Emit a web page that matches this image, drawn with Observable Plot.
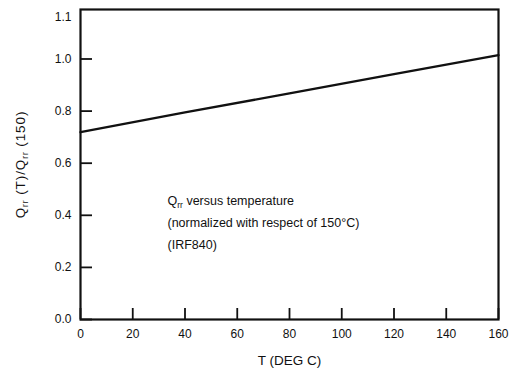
<!DOCTYPE html>
<html><head><meta charset="utf-8">
<script src="https://cdn.jsdelivr.net/npm/d3@7"></script>
<script src="https://cdn.jsdelivr.net/npm/@observablehq/plot@0.6"></script>
<style>html,body{margin:0;padding:0;background:#fff} svg{display:block}</style>
</head><body><div id="chart"></div>
<script>
// Data
const temps = [0, 40, 80, 120, 160];
const qrrRatio = [0.719, 0.795, 0.868, 0.942, 1.015];
const xTicks = [0, 20, 40, 60, 80, 100, 120, 140, 160];
const yTicks = [0, 0.2, 0.4, 0.6, 0.8, 1.0];
const yTickLabels = ["0.0", "0.2", "0.4", "0.6", "0.8", "1.0"];
const yTop = 1.19;
const yTopLabel = "1.1";
const xLabel = "T (DEG C)";
const yLabel = "Qrr (T)/Qrr (150)";
const noteLines = ["Qrr versus temperature", "(normalized with respect of 150°C)", "(IRF840)"];
const noteAt = {t: 33.3, q: 0.381};

const rows = temps.map((t, i) => ({t, q: qrrRatio[i]}));
const font = "'Liberation Sans', Arial, Helvetica, sans-serif";

const chart = Plot.plot({
  width: 525,
  height: 372,
  marginLeft: 80,
  marginRight: 27,
  marginTop: 9,
  marginBottom: 53,
  style: {fontFamily: font, fontSize: "12px", color: "#111", background: "#fff"},
  x: {domain: [0, 160]},
  y: {domain: [0, yTop]},
  marks: [
    // inward tick marks
    Plot.axisY({ticks: yTicks, tickSize: 12, dx: 12, tickFormat: () => "", label: null, strokeWidth: 1.8}),
    Plot.axisX({ticks: xTicks, tickSize: 11, dy: -11, tickFormat: () => "", label: null, strokeWidth: 1.8}),
    // tick labels
    Plot.axisY({ticks: yTicks, tickSize: 0, tickPadding: 9, tickFormat: d => yTickLabels[yTicks.indexOf(d)], label: null, fontSize: 12}),
    Plot.axisX({ticks: xTicks, tickSize: 0, tickPadding: 10, tickFormat: d => String(d), label: null, fontSize: 12}),
    Plot.text([yTopLabel], {frameAnchor: "top-left", dx: -9, dy: 3, textAnchor: "end", fontSize: 12}),
    Plot.frame({strokeWidth: 2.2, stroke: "#111"}),
    Plot.line(rows, {x: "t", y: "q", strokeWidth: 2.3, stroke: "#111"}),
    Plot.text([noteLines.join("\n")], {x: () => noteAt.t, y: () => noteAt.q, textAnchor: "start", lineAnchor: "middle", lineHeight: 1.76, fontSize: 12.5}),
    Plot.text([xLabel], {frameAnchor: "bottom", dy: 45, textAnchor: "middle", fontSize: 13.5, style: "letter-spacing:0.6px"}),
    Plot.text([yLabel], {frameAnchor: "left", dx: -60, rotate: -90, textAnchor: "middle", fontSize: 13.5})
  ]
});
document.getElementById("chart").append(chart);

// add subscripts for "Qrr"
const ns = "http://www.w3.org/2000/svg";
function makeQrr(parent, before, rest) {
  const q = document.createElementNS(ns, "tspan"); q.textContent = "Q";
  const a = document.createElementNS(ns, "tspan");
  a.setAttribute("font-size", "8.5px"); a.setAttribute("dy", "3"); a.textContent = "rr";
  const b = document.createElementNS(ns, "tspan");
  b.setAttribute("dy", "-3"); b.textContent = rest;
  parent.insertBefore(q, before); parent.insertBefore(a, before); parent.insertBefore(b, before);
}
d3.select(chart).selectAll("text").each(function() {
  if (this.childElementCount === 0 && this.textContent.includes("Qrr")) {
    const parts = this.textContent.split("Qrr");
    this.textContent = "";
    if (parts[0]) { const t = document.createElementNS(ns, "tspan"); t.textContent = parts[0]; this.appendChild(t); }
    for (let i = 1; i < parts.length; i++) makeQrr(this, null, parts[i]);
    if (this.getAttribute("transform") && this.getAttribute("transform").includes("rotate")) this.setAttribute("letter-spacing", "0.9px");
  }
});
d3.select(chart).selectAll("text tspan").each(function() {
  if (this.textContent.startsWith("Qrr")) {
    const rest = this.textContent.slice(3);
    this.textContent = "Q";
    const a = document.createElementNS(ns, "tspan");
    a.setAttribute("font-size", "8.5px"); a.setAttribute("dy", "3"); a.textContent = "rr";
    const b = document.createElementNS(ns, "tspan");
    b.setAttribute("dy", "-3"); b.textContent = rest;
    this.parentNode.insertBefore(b, this.nextSibling);
    this.parentNode.insertBefore(a, this.nextSibling);
  }
});
</script></body></html>
